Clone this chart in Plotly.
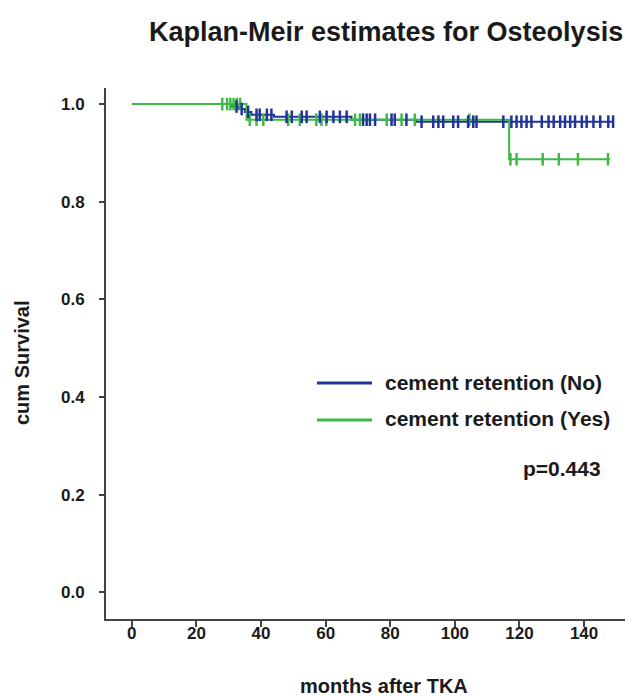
import numpy as np
import plotly.graph_objects as go

# ---- data ----
no_event_times = [0, 31, 33, 35, 37, 44, 68, 88, 149]
no_survival = [1.0, 0.995, 0.990, 0.984, 0.978, 0.974, 0.968, 0.964, 0.964]
no_censored = [32.4, 34, 36, 38.6, 39.6, 41.8, 43.2, 47.9, 49.5, 52.6, 54.1, 58.2,
               60.3, 62.4, 64.4, 66.5, 71.6, 72.7, 73.7, 75.3, 80.4, 81.4, 85, 89.7,
               93.3, 94.9, 96.4, 99.5, 101, 104.1, 105.7, 106.7, 115, 117.5, 119.1,
               120.6, 122.2, 123.7, 126.9, 129, 130.6, 132.6, 134.1, 135.7, 137.2,
               139.3, 140.8, 142.9, 145, 147.5, 149]

yes_event_times = [0, 35.5, 116.8, 148]
yes_survival = [1.0, 0.968, 0.887, 0.887]
yes_censored = [28, 29.5, 30.5, 31.5, 32.5, 33.5, 36.5, 38.6, 40.7, 48.4, 52, 57.1,
                58.7, 60.2, 69.1, 70.6, 78.9, 83.5, 87.6, 104.5, 117.2, 119.1, 127.2,
                132.2, 138.1, 147.4]

x_ticks = [0, 20, 40, 60, 80, 100, 120, 140]
y_ticks = [0.0, 0.2, 0.4, 0.6, 0.8, 1.0]

labels = ["cement retention (No)", "cement retention (Yes)"]
p_text = "p=0.443"
title_text = "Kaplan-Meir estimates for Osteolysis"

BLUE = "#22339a"
GREEN = "#3dba45"
FONT = "Liberation Sans"
TXT = "#1a1a1a"
Y_RANGE = [-0.055, 1.033]

def step_value(times, surv, t):
    idx = np.searchsorted(np.asarray(times), t, side="right") - 1
    return [surv[i] for i in idx]

fig = go.Figure()
fig.add_trace(go.Scatter(x=no_event_times, y=no_survival, mode="lines",
                         line=dict(color=BLUE, width=2, shape="hv"),
                         name=labels[0], showlegend=False))
fig.add_trace(go.Scatter(x=yes_event_times, y=yes_survival, mode="lines",
                         line=dict(color=GREEN, width=2, shape="hv"),
                         name=labels[1], showlegend=False))
fig.add_trace(go.Scatter(x=yes_censored, y=step_value(yes_event_times, yes_survival, yes_censored),
                         mode="markers", showlegend=False, yaxis="y2",
                         marker=dict(symbol="line-ns-open", size=9, color=GREEN,
                                     line=dict(color=GREEN, width=2.5))))
fig.add_trace(go.Scatter(x=no_censored, y=step_value(no_event_times, no_survival, no_censored),
                         mode="markers", showlegend=False, yaxis="y2",
                         marker=dict(symbol="line-ns-open", size=9, color=BLUE,
                                     line=dict(color=BLUE, width=2.5))))

# page body has an 8px margin: compensate so the picture lines up
OFF = 8
W, H = 633 - OFF, 696 - OFF
L, T = 106 - OFF, 88 - OFF
pw, ph = 522, 531
R, B = W - L - pw, H - T - ph

def px(x):
    return (x - OFF - L) / pw

def py(y):
    return (T + ph - (y - OFF)) / ph

fig.update_layout(
    width=W, height=H,
    margin=dict(l=L, r=R, t=T, b=B),
    paper_bgcolor="white", plot_bgcolor="white",
    showlegend=False,
    font=dict(family=FONT, color=TXT),
    xaxis=dict(range=[-8, 153.6], tickvals=x_ticks, ticks="outside", ticklen=6,
               tickwidth=1.5, tickcolor="#444", showline=True, linecolor="#444",
               linewidth=2, showgrid=False, zeroline=False,
               tickfont=dict(family=FONT, size=17, color=TXT, weight="bold"),
               ticklabelstandoff=-8),
    # labels axis: long transparent ticks push the labels away from the axis line
    yaxis=dict(range=Y_RANGE, tickvals=y_ticks, tickformat=".1f",
               ticks="outside", ticklen=16, tickwidth=1.5,
               tickcolor="rgba(0,0,0,0)",
               showline=True, linecolor="#444", linewidth=2, showgrid=False,
               zeroline=False, automargin=False,
               tickfont=dict(family=FONT, size=17, color=TXT, weight="bold")),
    # visible short tick marks
    yaxis2=dict(range=Y_RANGE, tickvals=y_ticks, overlaying="y", side="left",
                ticks="outside", ticklen=6, tickwidth=1.5, tickcolor="#444",
                showticklabels=False, showline=False, showgrid=False,
                zeroline=False, automargin=False),
)

ann = []
ann.append(dict(text=title_text, x=px(386), y=py(32), xref="paper", yref="paper",
                showarrow=False, xanchor="center", yanchor="middle",
                font=dict(family=FONT, size=27, color=TXT, weight="bold")))
ann.append(dict(text="months after TKA", x=px(384), y=py(686), xref="paper", yref="paper",
                showarrow=False, xanchor="center", yanchor="middle",
                font=dict(family=FONT, size=20, color=TXT, weight="bold")))
ann.append(dict(text="cum Survival", x=px(22), y=py(363), xref="paper", yref="paper",
                showarrow=False, xanchor="center", yanchor="middle", textangle=-90,
                font=dict(family=FONT, size=20, color=TXT, weight="bold")))
for lab, yy in zip(labels, [382, 418]):
    ann.append(dict(text=lab, x=px(383), y=py(yy), xref="paper", yref="paper",
                    showarrow=False, xanchor="left", yanchor="middle",
                    font=dict(family=FONT, size=21, color=TXT, weight="bold")))
ann.append(dict(text=p_text, x=px(603), y=py(469), xref="paper", yref="paper",
                showarrow=False, xanchor="right", yanchor="middle",
                font=dict(family=FONT, size=21, color=TXT, weight="bold")))
fig.update_layout(annotations=ann)

shapes = []
for col, yy in zip([BLUE, GREEN], [383, 420]):
    shapes.append(dict(type="line", xref="paper", yref="paper",
                       x0=px(317), x1=px(372), y0=py(yy), y1=py(yy),
                       line=dict(color=col, width=3)))
fig.update_layout(shapes=shapes)

fig.write_html("out.html")
